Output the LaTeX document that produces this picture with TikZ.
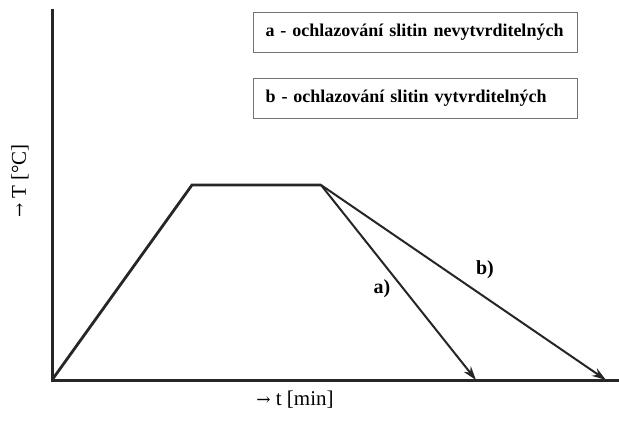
\documentclass[tikz,border=0pt]{standalone}
\usepackage{fontspec}
\setmainfont{Liberation Serif}
\newfontfamily\arrowfont{DejaVu Serif}
\usetikzlibrary{arrows.meta}
\newcommand{\axarrow}{{\arrowfont\fontsize{17}{17}\selectfont →}}
\begin{document}
\begin{tikzpicture}[x=1pt,y=-1pt,
  axis/.style={line width=3pt,draw=black!85},
  curve/.style={line width=2.8pt,draw=black!85,line join=miter},
  cool/.style={line width=2pt,draw=black!85,-{Stealth[length=14pt,width=9pt]}},
  legend/.style={draw=black!55,line width=1pt,minimum width=322pt,minimum height=40pt,text width=300pt,align=left,anchor=north west,inner xsep=12pt,inner ysep=0pt,font=\fontsize{18}{20}\selectfont\bfseries},
  lbl/.style={font=\fontsize{20}{22}\selectfont\bfseries},
  axlbl/.style={font=\fontsize{21}{23}\selectfont}]
\useasboundingbox (0,0) rectangle (619,424);
\coordinate (O) at (52,380);
\coordinate (Ytop) at (52,9);
\coordinate (Xend) at (619,380);
\coordinate (P1) at (192,185);
\coordinate (P2) at (321,185);
\coordinate (A) at (476,380);
\coordinate (B) at (606,380);
\draw[axis] (Ytop) -- (O) -- (Xend);
\draw[curve] (O) -- (P1) -- (P2);
\draw[cool] (P2) -- (A);
\draw[cool] (P2) -- (B);
\node[legend] (la) at (253,12) {a - ochlazování slitin nevytvrditelných};
\node[legend] (lb) at (253,78) {b - ochlazování slitin vytvrditelných};
\node[lbl] (ta) at (382,289) {a)};
\node[lbl] (tb) at (485,270) {b)};
\node[axlbl] (xl) at (295,400) {\axarrow\ t [min]};
\node[axlbl,rotate=90] (yl) at (20,181) {\axarrow\ T [°C]};
\end{tikzpicture}
\end{document}
